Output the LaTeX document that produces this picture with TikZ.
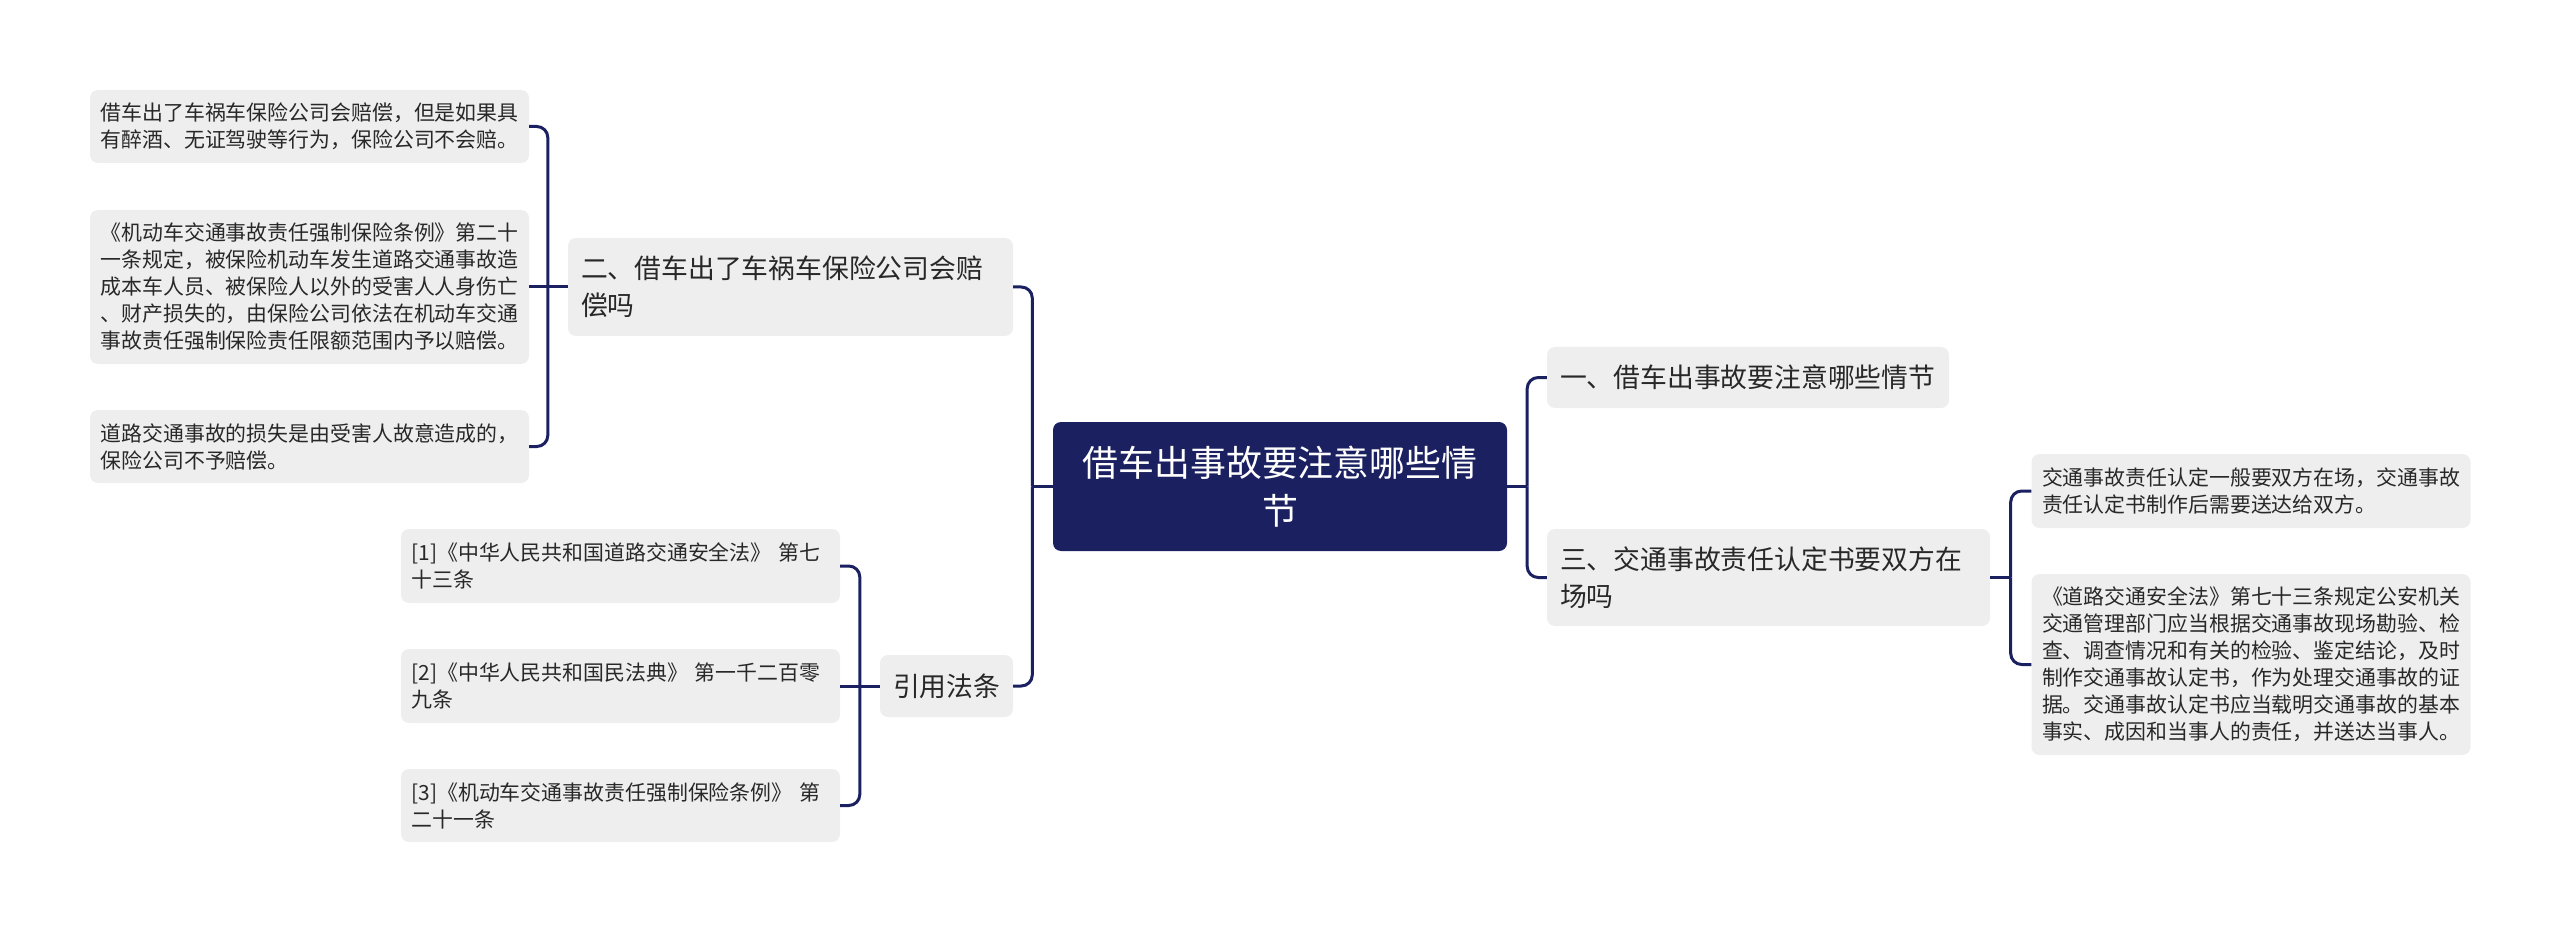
\documentclass[tikz,border=0pt]{standalone}
\usepackage{fontspec}
\setmainfont{Noto Sans CJK SC}
\usetikzlibrary{calc}
\definecolor{navy}{RGB}{27,32,96}
\definecolor{boxgray}{RGB}{238,238,238}
\definecolor{txtgray}{RGB}{40,40,40}
\tikzset{
  % 基础盒子
  box/.style={
    fill=boxgray,
    rounded corners=8pt,
    inner ysep=0pt,
    align=left,
    text=txtgray
  },
  % 叶子节点
  leaf/.style={
    box,
    inner xsep=10.5pt,
    text width=418pt,
    font=\fontsize{20.9}{27}\selectfont
  },
  % 分支节点
  branch/.style={
    box,
    inner xsep=13pt,
    font=\fontsize{26.8}{37}\selectfont
  },
  % 中心主题
  rootbox/.style={
    fill=navy,
    rounded corners=8pt,
    inner xsep=17pt,
    inner ysep=0pt,
    text width=420pt,
    align=center,
    text=white,
    font=\fontsize{35.9}{48}\selectfont
  },
  % 连线样式
  conn/.style={draw=navy, line width=3pt, rounded corners=11pt},
}

\begin{document}
\begin{tikzpicture}[x=1pt,y=-1pt]
        \useasboundingbox (0,0) rectangle (2560,933);

        % 中心主题
        \node[rootbox, minimum height=129pt] (root) at (1280,486.5)
          {借车出事故要注意哪些情\\节};

        % 左侧分支
        \node[branch, text width=419pt, minimum height=98pt] (b2) at (790.5,287)
          {二、借车出了车祸车保险公司会赔\\偿吗};
        \node[branch, text width=107pt, align=center, minimum height=62pt] (cite) at (946.5,686)
          {引用法条};

        % 右侧分支
        \node[branch, text width=376pt, minimum height=61pt] (b1) at (1748,377.5)
          {一、借车出事故要注意哪些情节};
        \node[branch, text width=417pt, minimum height=97pt] (b3) at (1768.5,577.5)
          {三、交通事故责任认定书要双方在\\场吗};

        % 分支二的叶子
        \node[leaf, minimum height=73pt] (l2a) at (309.5,126.5)
          {借车出了车祸车保险公司会赔偿，但是如果具\\有醉酒、无证驾驶等行为，保险公司不会赔。};
        \node[leaf, minimum height=154pt] (l2b) at (309.5,287)
          {《机动车交通事故责任强制保险条例》第二十\\一条规定，被保险机动车发生道路交通事故造\\成本车人员、被保险人以外的受害人人身伤亡\\、财产损失的，由保险公司依法在机动车交通\\事故责任强制保险责任限额范围内予以赔偿。};
        \node[leaf, minimum height=73pt] (l2c) at (309.5,446.5)
          {道路交通事故的损失是由受害人故意造成的，\\保险公司不予赔偿。};

        % 法条叶子
        \node[leaf, minimum height=74pt] (r1) at (620.5,566)
          {[1]《中华人民共和国道路交通安全法》~第七\\十三条};
        \node[leaf, minimum height=74pt] (r2) at (620.5,686)
          {[2]《中华人民共和国民法典》~第一千二百零\\九条};
        \node[leaf, minimum height=73pt] (r3) at (620.5,805.5)
          {[3]《机动车交通事故责任强制保险条例》~第\\二十一条};

        % 分支三的叶子
        \node[leaf, minimum height=74pt] (l3a) at (2251,491)
          {交通事故责任认定一般要双方在场，交通事故\\责任认定书制作后需要送达给双方。};
        \node[leaf, minimum height=181pt] (l3b) at (2251,664.5)
          {《道路交通安全法》第七十三条规定公安机关\\交通管理部门应当根据交通事故现场勘验、检\\查、调查情况和有关的检验、鉴定结论，及时\\制作交通事故认定书，作为处理交通事故的证\\据。交通事故认定书应当载明交通事故的基本\\事实、成因和当事人的责任，并送达当事人。};

        % 连接点
        \coordinate (jl) at ($(root.west)+(-20.5,0)$);
        \coordinate (jr) at ($(root.east)+(20,0)$);
        \coordinate (j2) at ($(b2.west)+(-20,0)$);
        \coordinate (jc) at ($(cite.west)+(-20,0)$);
        \coordinate (j3) at ($(b3.east)+(20.5,0)$);

        % 中心到分支
        \draw[conn] (root.west) -- (jl);
        \draw[conn] (jl) |- (b2.east);
        \draw[conn] (jl) |- (cite.east);
        \draw[conn] (root.east) -- (jr);
        \draw[conn] (jr) |- (b1.west);
        \draw[conn] (jr) |- (b3.west);

        % 分支二到叶子
        \draw[conn] (b2.west) -- (j2);
        \draw[conn] (j2) |- (l2a.east);
        \draw[conn] (j2) -- (l2b.east);
        \draw[conn] (j2) |- (l2c.east);

        % 法条
        \draw[conn] (cite.west) -- (jc);
        \draw[conn] (jc) |- (r1.east);
        \draw[conn] (jc) -- (r2.east);
        \draw[conn] (jc) |- (r3.east);

        % 分支三到叶子
        \draw[conn] (b3.east) -- (j3);
        \draw[conn] (j3) |- (l3a.west);
        \draw[conn] (j3) |- (l3b.west);
    \end{tikzpicture}
\end{document}
